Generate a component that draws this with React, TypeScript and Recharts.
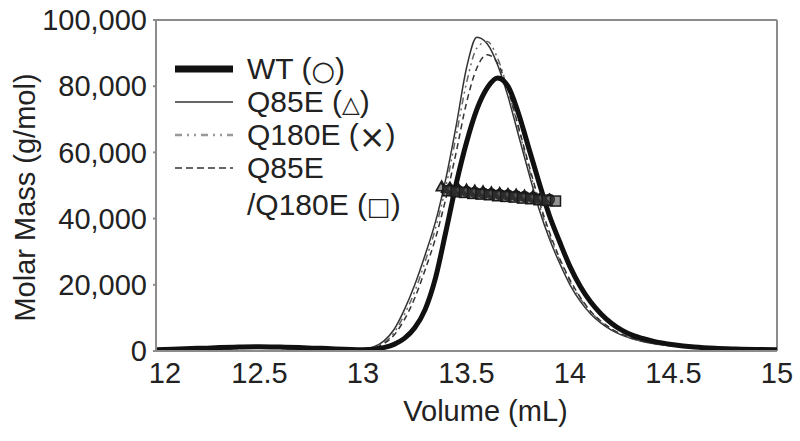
import React from 'react';
import {
  ComposedChart,
  Line,
  Scatter,
  XAxis,
  YAxis,
  ReferenceLine,
  Legend
} from 'recharts';

const FONT = '"Liberation Sans", Arial, sans-serif';
const TEXT = '#222';
const AXIS = '#8c8c8c';

// elution volume grid (mL) shared by the four traces
const volumes = [
  12.0, 12.2, 12.4, 12.5, 12.6, 12.8, 13.0, 13.05, 13.1, 13.15,
  13.2, 13.25, 13.3, 13.35, 13.4, 13.45, 13.5, 13.55, 13.6, 13.65,
  13.7, 13.75, 13.8, 13.85, 13.9, 13.95, 14.0, 14.05, 14.1, 14.15,
  14.2, 14.25, 14.3, 14.35, 14.4, 14.5, 14.6, 14.7, 14.8, 15.0
];

// detector traces, plotted on the molar mass scale
const wtTrace = [
  400, 800, 1200, 1300, 1200, 800, 400, 500, 1000, 2000,
  3800, 7000, 12500, 22000, 36000, 50500, 63000, 73000, 79500, 82500,
  80000, 72000, 61500, 51000, 41000, 33000, 25500, 19500, 14800, 11200,
  8400, 6300, 4800, 3800, 3000, 1900, 1200, 800, 600, 400
];
const q85eTrace = [
  300, 500, 800, 900, 800, 500, 500, 1200, 3000, 6500,
  12500, 20000, 29000, 39000, 52000, 68000, 85500, 94800, 92800, 86500,
  77000, 65500, 54000, 43000, 34000, 26500, 20000, 15000, 11200, 8400,
  6300, 4800, 3700, 2900, 2300, 1500, 1000, 700, 500, 300
];
const q180eTrace = [
  300, 500, 800, 900, 800, 500, 400, 1000, 2500, 5500,
  11000, 18000, 27000, 37000, 49500, 65000, 81000, 91500, 93500, 88500,
  79000, 67500, 55500, 44500, 35000, 27500, 21000, 15800, 11800, 8800,
  6600, 5000, 3800, 3000, 2400, 1500, 1000, 700, 500, 300
];
const doubleTrace = [
  300, 500, 800, 900, 800, 500, 400, 900, 2200, 4800,
  9500, 16000, 24500, 34000, 46000, 60000, 75000, 85500, 89500, 87000,
  79000, 68000, 56500, 45500, 36000, 28000, 21500, 16200, 12000, 9000,
  6700, 5100, 3900, 3000, 2400, 1500, 1000, 700, 500, 300
];

// molar mass points across the peak
const wtMassVol = [13.42, 13.46, 13.5, 13.54, 13.58, 13.62, 13.66, 13.7, 13.74, 13.78, 13.82, 13.86, 13.9];
const wtMass = [48800, 48500, 48200, 47900, 47700, 47500, 47300, 47100, 46900, 46700, 46400, 46100, 45800];
const q85eMassVol = [13.38, 13.42, 13.46, 13.5, 13.54, 13.58, 13.62, 13.66, 13.7, 13.74, 13.78, 13.82, 13.86];
const q85eMass = [49600, 49200, 48900, 48600, 48300, 48100, 47800, 47600, 47300, 47100, 46800, 46600, 46300];
const q180eMassVol = [13.4, 13.44, 13.48, 13.52, 13.56, 13.6, 13.64, 13.68, 13.72, 13.76, 13.8, 13.84, 13.88];
const q180eMass = [49300, 48900, 48600, 48400, 48100, 47800, 47600, 47400, 47100, 46900, 46600, 46300, 46100];
const doubleMassVol = [13.41, 13.45, 13.49, 13.53, 13.57, 13.61, 13.65, 13.69, 13.73, 13.77, 13.81, 13.85, 13.89, 13.93];
const doubleMass = [48400, 48100, 47900, 47600, 47400, 47200, 46900, 46700, 46500, 46200, 46000, 45700, 45500, 45300];

const xTicks = [12, 12.5, 13, 13.5, 14, 14.5, 15];
const yTicks = [0, 20000, 40000, 60000, 80000, 100000];

const toPoints = (xs: number[], ys: number[]) => xs.map((x, i) => ({ x, y: ys[i] }));

const MARK_FILL = 'rgba(60,60,60,0.55)';
const MARK_STROKE = '#1a1a1a';

const CircleMark = (p: any) => (
  <circle cx={p.cx} cy={p.cy} r={5} fill={MARK_FILL} stroke={MARK_STROKE} strokeWidth={1.5} />
);
const TriangleMark = (p: any) => (
  <path
    d={`M${p.cx},${p.cy - 6} L${p.cx + 5.5},${p.cy + 4} L${p.cx - 5.5},${p.cy + 4} Z`}
    fill={MARK_FILL}
    stroke={MARK_STROKE}
    strokeWidth={1.5}
  />
);
const CrossMark = (p: any) => (
  <g stroke={MARK_STROKE} strokeWidth={1.8}>
    <line x1={p.cx - 5} y1={p.cy - 5} x2={p.cx + 5} y2={p.cy + 5} />
    <line x1={p.cx - 5} y1={p.cy + 5} x2={p.cx + 5} y2={p.cy - 5} />
  </g>
);
const SquareMark = (p: any) => (
  <rect x={p.cx - 5} y={p.cy - 5} width={10} height={10} fill={MARK_FILL} stroke={MARK_STROKE} strokeWidth={1.5} />
);

const XTick = ({ x, y, payload }: any) => (
  <text
    x={x + (payload.value === 12 ? 9 : 0)}
    y={y}
    dy="0.71em"
    textAnchor="middle"
    fill={TEXT}
    fontSize={29}
    fontFamily={FONT}
  >
    {payload.value}
  </text>
);

const YTitle = ({ viewBox }: any) => {
  const vb = viewBox || { x: 0, y: 20, width: 156, height: 331 };
  const cx = vb.x + 25;
  const cy = vb.y + vb.height / 2 + 12;
  return (
    <text
      x={cx}
      y={cy}
      transform={`rotate(-90 ${cx} ${cy})`}
      textAnchor="middle"
      dominantBaseline="central"
      fill={TEXT}
      fontSize={29}
      fontFamily={FONT}
    >
      Molar Mass (g/mol)
    </text>
  );
};

const XTitle = ({ viewBox }: any) => {
  const vb = viewBox || { x: 156, y: 351, width: 621, height: 90 };
  return (
    <text
      x={vb.x + vb.width / 2 + 19}
      y={vb.y + 70}
      textAnchor="middle"
      fill={TEXT}
      fontSize={29}
      fontFamily={FONT}
    >
      Volume (mL)
    </text>
  );
};

const legendRows = [
  { name: 'WT', symbol: '○', symSize: 27, stroke: '#111', width: 7, dash: undefined as string | undefined },
  { name: 'Q85E', symbol: '△', symSize: 23, stroke: '#333', width: 1.5, dash: undefined },
  { name: 'Q180E', symbol: '×', symSize: 32, stroke: '#999', width: 2.5, dash: '7 5 2 5 2 5' },
  { name: 'Q85E', second: '/Q180E', symbol: '□', symSize: 25, stroke: '#333', width: 1.5, dash: '7 4' }
];

const Sym = ({ c, size }: { c: string; size: number }) => (
  <span style={{ fontSize: size, lineHeight: '16px', fontFamily: '"DejaVu Sans", sans-serif', verticalAlign: 'middle' }}>{c}</span>
);

const LegendBox = () => (
  <div style={{ fontFamily: FONT, fontSize: 30, color: TEXT, lineHeight: '33px' }}>
    {legendRows.map((r, i) => (
      <div key={i}>
        <div style={{ display: 'flex', alignItems: 'center', height: 33 }}>
          <svg width={60} height={10} style={{ marginRight: 12 }}>
            <line x1={0} y1={5} x2={58} y2={5} stroke={r.stroke} strokeWidth={r.width} strokeDasharray={r.dash} />
          </svg>
          <span>
            {r.name}
            {!r.second && (
              <>
                {' ('}
                <Sym c={r.symbol} size={r.symSize} />
                {')'}
              </>
            )}
          </span>
        </div>
        {r.second && (
          <div style={{ paddingLeft: 72, marginTop: 4, height: 36 }}>
            {r.second} (<Sym c={r.symbol} size={r.symSize} />)
          </div>
        )}
      </div>
    ))}
  </div>
);

export default function App() {
  return (
    <div style={{ position: 'absolute', left: 0, top: 0, width: 800, height: 441, background: '#fff' }}>
      <ComposedChart width={800} height={441} margin={{ top: 20, right: 23, bottom: 0, left: 0 }}>
        <XAxis
          type="number"
          dataKey="x"
          domain={[12, 15]}
          ticks={xTicks}
          allowDataOverflow
          height={90}
          stroke={AXIS}
          strokeWidth={2}
          tickLine={false}
          tickSize={4}
          tickMargin={7}
          tick={<XTick />}
          label={<XTitle />}
        />
        <YAxis
          type="number"
          domain={[0, 100000]}
          ticks={yTicks}
          allowDataOverflow
          width={156}
          stroke={AXIS}
          strokeWidth={2}
          tickSize={3}
          tickMargin={6}
          tickFormatter={(v: number) => v.toLocaleString('en-US')}
          tick={{ fill: TEXT, fontSize: 29, fontFamily: FONT }}
          label={<YTitle />}
        />
        <ReferenceLine y={100000} stroke={AXIS} strokeWidth={2} ifOverflow="visible" />
        <ReferenceLine x={15} stroke={AXIS} strokeWidth={2} ifOverflow="visible" />
        <Legend
          layout="vertical"
          verticalAlign="middle"
          align="center"
          content={<LegendBox />}
          wrapperStyle={{ left: 175, top: 52, width: 260 }}
        />

        <Line data={toPoints(volumes, q85eTrace)} dataKey="y" type="monotone" stroke="#333" strokeWidth={1.5} dot={false} activeDot={false} isAnimationActive={false} legendType="none" />
        <Line data={toPoints(volumes, q180eTrace)} dataKey="y" type="monotone" stroke="#666" strokeWidth={1.5} strokeDasharray="7 4 2 4 2 4" dot={false} activeDot={false} isAnimationActive={false} legendType="none" />
        <Line data={toPoints(volumes, doubleTrace)} dataKey="y" type="monotone" stroke="#333" strokeWidth={1.5} strokeDasharray="6 4" dot={false} activeDot={false} isAnimationActive={false} legendType="none" />
        <Line data={toPoints(volumes, wtTrace)} dataKey="y" type="monotone" stroke="#111" strokeWidth={5} dot={false} activeDot={false} isAnimationActive={false} legendType="none" />

        <Scatter data={toPoints(wtMassVol, wtMass)} dataKey="y" shape={CircleMark} isAnimationActive={false} legendType="none" />
        <Scatter data={toPoints(q85eMassVol, q85eMass)} dataKey="y" shape={TriangleMark} isAnimationActive={false} legendType="none" />
        <Scatter data={toPoints(q180eMassVol, q180eMass)} dataKey="y" shape={CrossMark} isAnimationActive={false} legendType="none" />
        <Scatter data={toPoints(doubleMassVol, doubleMass)} dataKey="y" shape={SquareMark} isAnimationActive={false} legendType="none" />
      </ComposedChart>
    </div>
  );
}
